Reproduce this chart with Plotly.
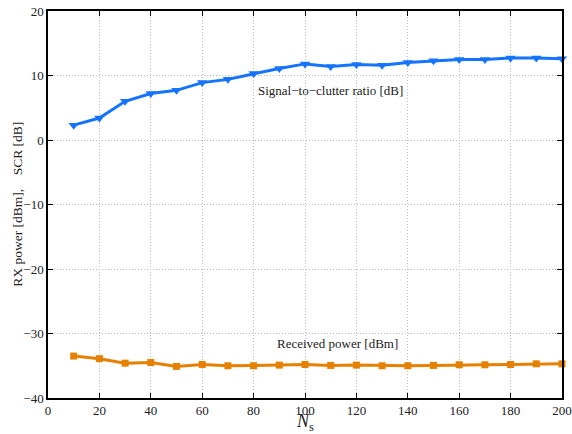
import plotly.graph_objects as go

ns = [10, 20, 30, 40, 50, 60, 70, 80, 90, 100, 110, 120, 130, 140, 150, 160, 170, 180, 190, 200]
scr_db = [2.3, 3.4, 6.0, 7.2, 7.7, 8.9, 9.4, 10.3, 11.1, 11.8, 11.4, 11.7, 11.6, 12.0, 12.3, 12.5, 12.5, 12.7, 12.7, 12.6]
rx_dbm = [-33.5, -33.9, -34.6, -34.5, -35.1, -34.8, -35.0, -35.0, -34.9, -34.8, -34.95, -34.9, -35.0, -35.0, -34.95, -34.85, -34.85, -34.8, -34.7, -34.7]
x_ticks = [0, 20, 40, 60, 80, 100, 120, 140, 160, 180, 200]
y_ticks = [-40, -30, -20, -10, 0, 10, 20]

BLUE = "rgb(20,115,255)"
ORANGE = "rgb(230,128,0)"
FONT = "Liberation Serif, Times New Roman, serif"

fig = go.Figure()
fig.add_trace(go.Scatter(x=ns, y=scr_db, mode="lines+markers",
                         line=dict(color=BLUE, width=3),
                         marker=dict(symbol="triangle-down", size=9, color=BLUE),
                         showlegend=False, cliponaxis=False))
fig.add_trace(go.Scatter(x=ns, y=rx_dbm, mode="lines+markers",
                         line=dict(color=ORANGE, width=3),
                         marker=dict(symbol="square", size=7, color=ORANGE),
                         showlegend=False, cliponaxis=False))

fig.add_annotation(x=110, y=7.75, text="Signal\u2212to\u2212clutter ratio [dB]", showarrow=False,
                   font=dict(family=FONT, size=13, color="#222"))
fig.add_annotation(x=112.5, y=-31.6, text="Received power [dBm]", showarrow=False,
                   font=dict(family=FONT, size=13, color="#222"))
fig.add_annotation(x=0.5, xref="paper", y=-0.029, yref="paper", yanchor="top", xanchor="center",
                   text="<i>N</i><sub>s</sub>", showarrow=False,
                   font=dict(family=FONT, size=18, color="#222"))
fig.add_annotation(x=-0.060, xref="paper", y=0.5, yref="paper", textangle=-90,
                   xanchor="center", yanchor="middle",
                   text="RX power [dBm],    SCR [dB]", showarrow=False,
                   font=dict(family=FONT, size=13.5, color="#222"))

axis_common = dict(showline=True, linecolor="black", linewidth=1.5, mirror="allticks",
                   ticks="inside", ticklen=5, tickcolor="black", automargin=False,
                   ticklabeloverflow="allow",
                   showgrid=True, gridcolor="#bdbdbd", griddash="1px,2px", gridwidth=1,
                   zeroline=False, tickfont=dict(family=FONT, size=13, color="#222"))

fig.update_xaxes(range=[0, 200], tickvals=x_ticks, ticktext=[str(v) for v in x_ticks],
                 **axis_common)
fig.update_yaxes(range=[-40, 20], tickvals=y_ticks,
                 ticktext=[str(v).replace("-", "\u2212") for v in y_ticks],
                 **axis_common)

fig.update_layout(width=572, height=434, margin=dict(l=48, r=10, t=11, b=36),
                  plot_bgcolor="white", paper_bgcolor="white")

fig.write_html("out.html", config={"displayModeBar": False},
               post_script="document.body.style.margin='0';document.body.style.padding='0';")
